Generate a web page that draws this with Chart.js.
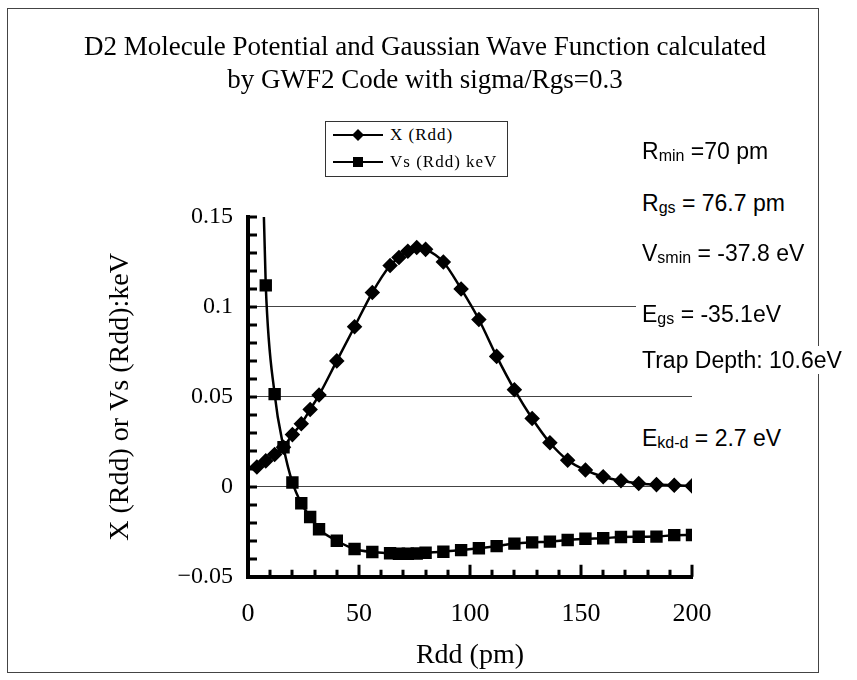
<!DOCTYPE html>
<html>
<head>
<meta charset="utf-8">
<script src="https://cdn.jsdelivr.net/npm/chart.js@4.4.0/dist/chart.umd.min.js"></script>
<style>
  body { margin: 0; background: #fff; }
  #wrap { position: relative; width: 857px; height: 680px; overflow: hidden; }
  #frame { position: absolute; left: 7px; top: 8px; width: 810px; height: 663px; border: 1px solid #444; }
  #chart { position: absolute; left: 0; top: 0; }
  .title { position: absolute; left: 0; width: 850px; text-align: center; font-family: "Liberation Serif", serif; font-size: 27px; color: #000; line-height: 33px; }
  #legend { position: absolute; left: 325px; top: 121px; width: 181px; height: 54px; border: 1px solid #333; background: #fff; font-family: "Liberation Serif", serif; font-size: 17px; letter-spacing: 1px; }
  #legend .row { position: absolute; left: 7px; height: 20px; display: flex; align-items: center; }
  #legend .row span { margin-left: 7px; }
  .note { position: absolute; left: 636px; padding: 0 6px; background: #fff; font-family: "Liberation Sans", Arial, sans-serif; font-size: 23px; line-height: 28px; color: #000; white-space: nowrap; }
  .note .sub { font-size: 16px; vertical-align: -2px; }
</style>
</head>
<body>
<div id="wrap">
  <div id="frame"></div>
  <canvas id="chart" width="857" height="680"></canvas>
  <div class="title" style="top:30px">D2 Molecule Potential and Gaussian Wave Function calculated</div>
  <div class="title" style="top:63px">by GWF2 Code with sigma/Rgs=0.3</div>
  <div id="legend">
    <div class="row" style="top:3px">
      <svg width="50" height="14"><line x1="0" y1="7" x2="50" y2="7" stroke="#000" stroke-width="2"/><polygon points="25,1 31,7 25,13 19,7" fill="#000"/></svg>
      <span>X (Rdd)</span>
    </div>
    <div class="row" style="top:30px">
      <svg width="50" height="14"><line x1="0" y1="7" x2="50" y2="7" stroke="#000" stroke-width="2"/><rect x="20" y="2" width="10" height="10" fill="#000"/></svg>
      <span>Vs (Rdd) keV</span>
    </div>
  </div>
  <div class="note" style="top:137px">R<span class="sub">min</span> =70 pm</div>
  <div class="note" style="top:189px">R<span class="sub">gs</span> = 76.7 pm</div>
  <div class="note" style="top:235px;padding-top:4px;padding-bottom:16px">V<span class="sub">smin</span> = -37.8 eV</div>
  <div class="note" style="top:300px">E<span class="sub">gs</span> = -35.1eV</div>
  <div class="note" style="top:346px">Trap Depth: 10.6eV</div>
  <div class="note" style="top:424px">E<span class="sub">kd-d</span> = 2.7 eV</div>
</div>
<script>
// Rdd sample positions (pm)
const rdd = [4, 8, 12, 16, 20, 24, 28, 32, 40, 48, 56, 64, 68, 72, 76, 80, 88, 96, 104, 112, 120, 128, 136, 144, 152, 160, 168, 176, 184, 192, 200];
// Gaussian wave function X(Rdd)
const chi = [0.011, 0.0144, 0.018, 0.022, 0.029, 0.035, 0.043, 0.051, 0.070, 0.089, 0.108, 0.123, 0.1275, 0.131, 0.133, 0.132, 0.125, 0.110, 0.093, 0.0725, 0.054, 0.038, 0.0245, 0.0148, 0.0093, 0.0056, 0.0033, 0.0018, 0.0012, 0.0008, 0.0005];
// potential Vs(Rdd) in keV
const vs = [0.3, 0.112, 0.0515, 0.022, 0.0024, -0.0092, -0.0168, -0.0236, -0.030, -0.0346, -0.0363, -0.037, -0.0372, -0.0372, -0.0371, -0.0367, -0.0361, -0.0352, -0.0342, -0.033, -0.0316, -0.0309, -0.0305, -0.0296, -0.0289, -0.0286, -0.0279, -0.0278, -0.0277, -0.0269, -0.0268];

const xMin = 0, xMax = 200, xStep = 50, xMinor = 10;
const yMin = -0.05, yMax = 0.15, yStep = 0.05, yMinor = 0.01;
const gridAt = [0.1, 0.05, 0];

const serif = "'Liberation Serif', 'Times New Roman', serif";

function fmtY(v) {
  const r = Math.round(v * 100) / 100;
  return String(r).replace("-", "\u2212");
}

// inward tick marks on both axes
const innerTicks = {
  id: "innerTicks",
  afterDraw(chart) {
    const { ctx, chartArea, scales } = chart;
    ctx.save();
    ctx.strokeStyle = "#000";
    ctx.lineWidth = 3;
    ctx.beginPath();
    for (let v = yMin; v <= yMax + 1e-9; v += yMinor) {
      const y = Math.round(scales.y.getPixelForValue(v));
      ctx.moveTo(chartArea.left, y);
      ctx.lineTo(chartArea.left + 9, y);
    }
    for (let v = xMin; v <= xMax; v += xMinor) {
      const x = Math.round(scales.x.getPixelForValue(v));
      const len = v % xStep === 0 ? 12 : 7;
      ctx.moveTo(x, chartArea.bottom);
      ctx.lineTo(x, chartArea.bottom - len);
    }
    ctx.stroke();
    ctx.restore();
  }
};

function buildChart() {
  const ctx = document.getElementById("chart");
  new Chart(ctx, {
    type: "line",
    data: {
      datasets: [
        {
          label: "X (Rdd)",
          data: rdd.map((r, i) => ({ x: r, y: chi[i] })),
          borderColor: "#000",
          backgroundColor: "#000",
          borderWidth: 2.5,
          pointStyle: "rectRot",
          pointRadius: 6,
          cubicInterpolationMode: "monotone"
        },
        {
          label: "Vs (Rdd) keV",
          data: rdd.map((r, i) => ({ x: r, y: vs[i] })),
          borderColor: "#000",
          backgroundColor: "#000",
          borderWidth: 2.5,
          pointStyle: "rect",
          pointRadius: 7,
          cubicInterpolationMode: "monotone"
        }
      ]
    },
    options: {
      responsive: false,
      animation: false,
      layout: { autoPadding: false, padding: { left: 0, top: 217, right: 165, bottom: 0 } },
      plugins: { legend: { display: false }, title: { display: false }, tooltip: { enabled: false } },
      scales: {
        x: {
          type: "linear",
          min: xMin,
          max: xMax,
          ticks: { stepSize: xStep, color: "#000", font: { family: serif, size: 26 }, padding: 22 },
          grid: { drawOnChartArea: false, drawTicks: false },
          border: { display: true, color: "#000", width: 4 },
          title: { display: true, text: "Rdd (pm)", color: "#000", font: { family: serif, size: 28 }, padding: { top: 0, bottom: 8 } },
          afterFit(s) { s.height = 103.3; }
        },
        y: {
          type: "linear",
          min: yMin,
          max: yMax,
          ticks: { stepSize: yStep, color: "#000", font: { family: serif, size: 24 }, padding: 15, callback: fmtY },
          grid: {
            drawTicks: false,
            lineWidth: 1,
            color: c => gridAt.some(g => Math.abs(g - c.tick.value) < 1e-9) ? "#444" : "rgba(0,0,0,0)"
          },
          border: { display: true, color: "#000", width: 4 },
          title: { display: true, text: "X (Rdd) or Vs (Rdd):keV", color: "#000", font: { family: serif, size: 28 }, padding: { top: 104, bottom: 0 } },
          afterFit(s) { s.width = 248; }
        }
      }
    },
    plugins: [innerTicks]
  });
}

document.addEventListener("DOMContentLoaded", buildChart);
</script>
</body>
</html>
